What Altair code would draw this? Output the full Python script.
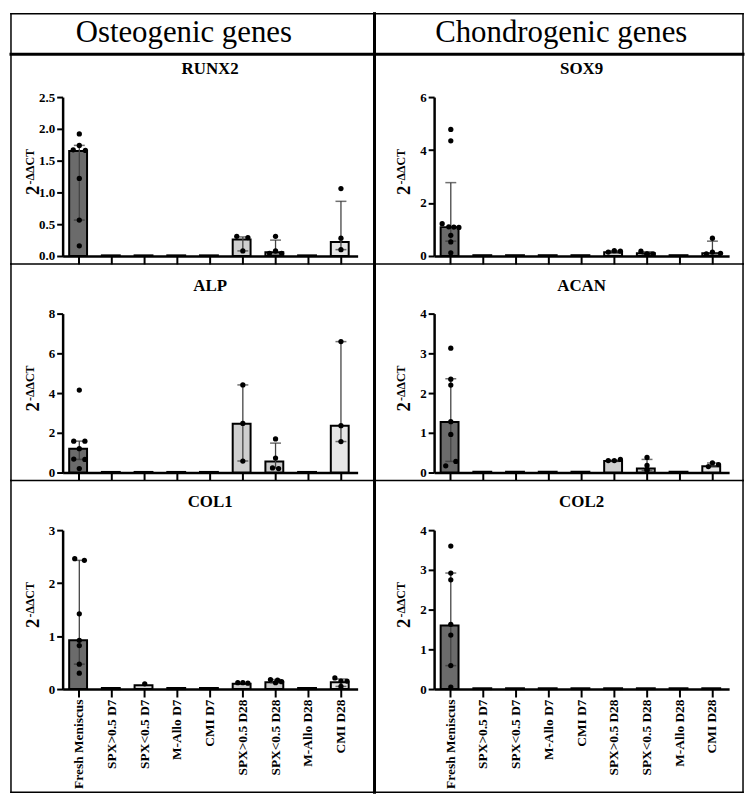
import altair as alt
import pandas as pd

FONT = "Liberation Serif"

GROUPS = ["Fresh Meniscus", "SPX>0.5 D7", "SPX<0.5 D7", "M-Allo D7", "CMI D7",
          "SPX>0.5 D28", "SPX<0.5 D28", "M-Allo D28", "CMI D28"]
BAR_COLORS = ["#6b6b6b", "#d6d6d6", "#d6d6d6", "#d6d6d6", "#e2e2e2",
              "#cfcfcf", "#cbcbcb", "#d6d6d6", "#e6e6e6"]

N = None

# ---------------- RUNX2 ----------------
runx2_bar = [1.65, 0.01, 0.01, 0.01, 0.01, 0.26, 0.06, 0.01, 0.22]
runx2_lo = [0.565, N, N, N, N, 0.08, 0.03, N, 0.10]
runx2_hi = [1.74, N, N, N, N, 0.30, 0.25, N, 0.86]
runx2_pts = [[1.92, 1.74, 1.67, 1.66, 1.22, 0.565, 0.16], [], [], [], [],
             [0.31, 0.29, 0.08], [0.31, 0.08, 0.04, 0.04], [], [1.06, 0.28, 0.10]]
runx2_jit = [[0, 0, -0.6, 0.6, 0, 0, 0], [], [], [], [],
             [-0.6, 0.5, 0], [0, 0, -0.6, 0.6], [], [0, 0, 0]]

# ---------------- ALP ----------------
alp_bar = [1.2, 0.03, 0.03, 0.03, 0.03, 2.45, 0.55, 0.03, 2.36]
alp_lo = [0.66, N, N, N, N, 0.58, 0.22, N, 1.56]
alp_hi = [1.58, N, N, N, N, 4.41, 1.48, N, 6.59]
alp_pts = [[4.15, 1.58, 1.58, 1.2, 0.68, 0.66, 0.2], [], [], [], [],
           [4.41, 2.47, 0.58], [1.69, 0.73, 0.23, 0.2], [], [6.59, 2.36, 1.56]]
alp_jit = [[0, -0.55, 0.55, 0, -0.55, 0.55, 0], [], [], [], [],
           [0, 0, 0], [0, 0, -0.3, 0.3], [], [0, 0, 0]]

# ---------------- COL1 ----------------
col1_bar = [0.92, 0.02, 0.07, 0.02, 0.02, 0.10, 0.13, 0.02, 0.13]
col1_lo = [0.47, N, N, N, N, N, 0.12, N, 0.05]
col1_hi = [2.43, N, N, N, N, N, 0.18, N, 0.19]
col1_pts = [[2.46, 2.43, 1.42, 0.92, 0.82, 0.47, 0.30], [], [0.10], [], [],
            [0.12, 0.12, 0.11], [0.18, 0.17, 0.14, 0.12], [], [0.21, 0.15, 0.15, 0.05]]
col1_jit = [[-0.45, 0.5, 0, 0, 0, 0, 0], [], [0], [], [],
            [-0.5, 0, 0.5], [-0.5, 0.2, 0.6, 0], [], [-0.6, 0, 0.6, 0]]

# ---------------- SOX9 ----------------
sox9_bar = [1.09, 0.03, 0.03, 0.03, 0.03, 0.14, 0.10, 0.03, 0.10]
sox9_lo = [0.56, N, N, N, N, 0.12, 0.06, N, 0.08]
sox9_hi = [2.77, N, N, N, N, 0.20, 0.16, N, 0.56]
sox9_pts = [[4.78, 4.35, 1.22, 1.10, 1.09, 1.08, 0.78, 0.53, 0.12], [], [], [], [],
            [0.15, 0.20, 0.18], [0.18, 0.08, 0.08, 0.06], [], [0.67, 0.15, 0.10, 0.08]]
sox9_jit = [[0, 0, -0.85, -0.2, 0.3, 0.8, 0, 0, 0], [], [], [], [],
            [-0.6, 0, 0.6], [-0.6, 0, 0.6, 0], [], [0, 0, 0.8, -0.6]]

# ---------------- ACAN ----------------
acan_bar = [1.27, 0.02, 0.02, 0.02, 0.02, 0.29, 0.10, 0.02, 0.16]
acan_lo = [0.28, N, N, N, N, 0.28, 0.05, N, 0.15]
acan_hi = [2.36, N, N, N, N, 0.31, 0.33, N, 0.24]
acan_pts = [[3.13, 2.35, 2.2, 1.28, 0.96, 0.28, 0.17], [], [], [], [],
            [0.30, 0.30, 0.33], [0.38, 0.18, 0.08, 0.05], [], [0.24, 0.20, 0.15]]
acan_jit = [[0, 0, 0, 0, 0, 0.5, -0.5], [], [], [], [],
            [-0.6, 0, 0.6], [0, 0, 0, 0], [], [0, 0.6, -0.4]]

# ---------------- COL2 ----------------
col2_bar = [1.6, 0.02, 0.02, 0.02, 0.02, 0.02, 0.02, 0.02, 0.02]
col2_lo = [0.59, N, N, N, N, N, N, N, N]
col2_hi = [2.92, N, N, N, N, N, N, N, N]
col2_pts = [[3.6, 2.92, 2.75, 1.63, 1.36, 0.59, 0.05], [], [], [], [], [], [], [], []]
col2_jit = [[0, 0, 0, 0, 0, 0, 0], [], [], [], [], [], [], [], []]

SPECS = [
    dict(title="RUNX2", bar=runx2_bar, lo=runx2_lo, hi=runx2_hi, pts=runx2_pts, jit=runx2_jit,
         ymax=2.5, ticks=[0, 0.5, 1.0, 1.5, 2.0, 2.5], fmt=".1f"),
    dict(title="SOX9", bar=sox9_bar, lo=sox9_lo, hi=sox9_hi, pts=sox9_pts, jit=sox9_jit,
         ymax=6, ticks=[0, 2, 4, 6], fmt="d"),
    dict(title="ALP", bar=alp_bar, lo=alp_lo, hi=alp_hi, pts=alp_pts, jit=alp_jit,
         ymax=8, ticks=[0, 2, 4, 6, 8], fmt="d"),
    dict(title="ACAN", bar=acan_bar, lo=acan_lo, hi=acan_hi, pts=acan_pts, jit=acan_jit,
         ymax=4, ticks=[0, 1, 2, 3, 4], fmt="d"),
    dict(title="COL1", bar=col1_bar, lo=col1_lo, hi=col1_hi, pts=col1_pts, jit=col1_jit,
         ymax=3, ticks=[0, 1, 2, 3], fmt="d"),
    dict(title="COL2", bar=col2_bar, lo=col2_lo, hi=col2_hi, pts=col2_pts, jit=col2_jit,
         ymax=4, ticks=[0, 1, 2, 3, 4], fmt="d"),
]
HEADERS = ["Osteogenic genes", "Chondrogenic genes"]

W, H = 297, 160
ROW_GAP, COL_GAP = 58, 77
one = pd.DataFrame({"k": [0]})


def hline(x1, x2, y, sw):
    return alt.Chart(one).mark_rule(color="black", strokeWidth=sw, strokeCap="square").encode(
        x=alt.value(x1), x2=alt.value(x2), y=alt.value(y))


def vline(x, y1, y2, sw):
    return alt.Chart(one).mark_rule(color="black", strokeWidth=sw, strokeCap="square").encode(
        x=alt.value(x), y=alt.value(y1), y2=alt.value(y2))


def label(text, x, y, size, weight="bold", angle=0, align="center", baseline="alphabetic"):
    return alt.Chart(one).mark_text(text=text, font=FONT, fontSize=size, fontWeight=weight,
                                    angle=angle, align=align, baseline=baseline,
                                    color="black").encode(x=alt.value(x), y=alt.value(y))


def panel(spec, row, col):
    bar_df = pd.DataFrame({"group": GROUPS, "value": spec["bar"]})
    err_df = pd.DataFrame({"group": GROUPS, "lo": spec["lo"], "hi": spec["hi"]}).dropna()
    rows = []
    for g, vals, jits in zip(GROUPS, spec["pts"], spec["jit"]):
        for v, j in zip(vals, jits):
            rows.append({"group": g, "value": v, "jit": j})
    pts_df = pd.DataFrame(rows)

    axis_common = dict(title=None, grid=False, domainColor="black", domainWidth=2.5,
                       tickColor="black", tickWidth=2, labelFont=FONT, labelFontWeight="bold",
                       labelColor="black")
    if row == 2:
        xaxis = alt.Axis(**axis_common, tickSize=8, labelAngle=270, labelAlign="right",
                         labelBaseline="middle", labelFontSize=13.5, labelPadding=2, labelLimit=0)
    else:
        xaxis = alt.Axis(**axis_common, tickSize=8, labels=False)
    X = alt.X("group:N", sort=GROUPS,
              scale=alt.Scale(domain=GROUPS, paddingInner=0.38, paddingOuter=0.2), axis=xaxis)
    ys = alt.Scale(domain=[0, spec["ymax"]], nice=False, zero=True)
    yaxis = alt.Axis(**axis_common, tickSize=6, values=spec["ticks"], format=spec["fmt"],
                     labelFontSize=13, labelPadding=2)

    bars = alt.Chart(bar_df).mark_bar(stroke="black", strokeWidth=2).encode(
        x=X, y=alt.Y("value:Q", scale=ys, axis=yaxis),
        color=alt.Color("group:N", scale=alt.Scale(domain=GROUPS, range=BAR_COLORS), legend=None))
    err = alt.Chart(err_df).mark_rule(color="#444444", strokeWidth=1.3).encode(
        x=X, y=alt.Y("lo:Q", scale=ys, axis=yaxis), y2="hi:Q")
    cap_lo = alt.Chart(err_df).mark_tick(color="#333333", size=11, thickness=1.5).encode(
        x=X, y=alt.Y("lo:Q", scale=ys, axis=yaxis))
    cap_hi = alt.Chart(err_df).mark_tick(color="#333333", size=11, thickness=1.5).encode(
        x=X, y=alt.Y("hi:Q", scale=ys, axis=yaxis))
    dots = alt.Chart(pts_df).mark_circle(color="black", size=28, opacity=1).encode(
        x=X, xOffset=alt.XOffset("jit:Q", scale=alt.Scale(domain=[-1, 1])),
        y=alt.Y("value:Q", scale=ys, axis=yaxis))

    layers = [bars, err, cap_lo, cap_hi, dots]
    # panel title and y title
    layers.append(label(spec["title"], W / 2, -23, 17))
    layers.append(label("2", -24, 89, 19, angle=270, align="right"))
    layers.append(label("-ΔΔCT", -29, 88, 12, angle=270, align="left"))

    # cell borders
    xl, xr = (-52, 314) if col == 0 else (-60, 311)
    top = -84 if row == 0 else -50
    bottom = 264 if row == 2 else 168
    if row == 0:
        layers.append(hline(xl, xr, -84, 1.5))
        layers.append(hline(xl, xr, -43, 3))
        layers.append(label(HEADERS[col], 122 if col == 0 else 128, -64, 31,
                            weight="normal", baseline="middle"))
    layers.append(hline(xl, xr, bottom, 1.5))
    if col == 0:
        layers.append(vline(-52, top, bottom, 1.5))
        layers.append(vline(314, top, bottom, 3))
    else:
        layers.append(vline(311, top, bottom, 1.5))

    return alt.layer(*layers).properties(width=W, height=H)


panels = []
for i, spec in enumerate(SPECS):
    panels.append(panel(spec, i // 2, i % 2))

chart = alt.concat(*panels, columns=2, spacing={"row": ROW_GAP, "column": COL_GAP},
                   bounds="flush").properties(
    padding=0, background="white"
).configure_view(stroke=None)

chart.save("out.html", embed_options={"renderer": "svg", "actions": False})
